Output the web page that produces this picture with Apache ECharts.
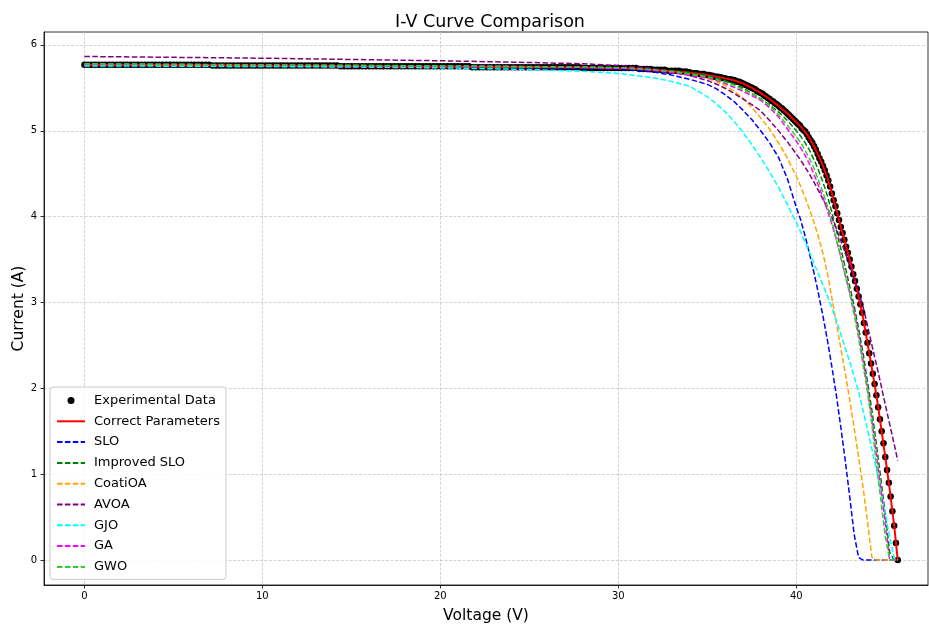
<!DOCTYPE html>
<html>
<head>
<meta charset="utf-8">
<title>I-V Curve Comparison</title>
<script src="https://cdn.jsdelivr.net/npm/echarts/dist/echarts.min.js"></script>
<style>
  html, body { margin: 0; padding: 0; background: #ffffff; }
  #chart { width: 929px; height: 624px; }
</style>
</head>
<body>
<div id="chart"></div>
<script>
// Measured I-V points (voltage in V, current in A)
const expVoltage = [
  0,0.2,0.4,0.6,0.8,1,1.2,1.4,1.6,1.8,2,2.2,2.4,2.6,2.8,3,3.2,3.4,3.6,3.8,4,4.2,4.4,4.6,4.8,5,5.2,5.4,5.6,5.8,6,6.2,6.4,6.6,6.8,7,
  7.2,7.4,7.6,7.8,8,8.2,8.4,8.6,8.8,9,9.2,9.4,9.6,9.8,10,10.2,10.4,10.6,10.8,11,11.2,11.4,11.6,11.8,12,12.2,12.4,12.6,12.8,13,13.2,13.4,13.6,13.8,14,14.2,
  14.4,14.6,14.8,15,15.2,15.4,15.6,15.8,16,16.2,16.4,16.6,16.8,17,17.2,17.4,17.6,17.8,18,18.2,18.4,18.6,18.8,19,19.2,19.4,19.6,19.8,20,20.2,20.4,20.6,20.8,21,21.2,21.4,21.6,
  21.8,22,22.2,22.4,22.6,22.8,23,23.2,23.4,23.6,23.8,24,24.2,24.4,24.6,24.8,25,25.2,25.4,25.6,25.8,26,26.2,26.4,26.6,26.8,27,27.2,27.4,27.6,27.8,
  28,28.2,28.4,28.6,28.8,29,29.2,29.4,29.6,29.8,30,30.2,30.4,30.6,30.8,31,
  31.2,31.4,31.6,31.8,32,32.2,32.4,32.6,32.8,33,33.2,33.4,33.6,33.8,
  34,34.1,34.2,34.3,34.4,34.5,34.6,34.7,34.8,34.9,35,35.1,35.2,35.3,35.4,35.5,35.6,35.7,35.8,35.9,
  36,36.1,36.2,36.3,36.4,36.5,36.6,36.7,36.8,36.9,37,37.1,37.2,37.3,37.4,37.5,37.6,37.7,37.8,37.9,
  38,38.1,38.2,38.3,38.4,38.5,38.6,38.7,38.8,38.9,39,39.1,39.2,39.3,39.4,39.5,39.6,39.7,39.8,39.9,
  40,40.1,40.2,40.3,40.4,40.5,40.6,40.7,40.8,40.9,41,41.1,41.2,41.3,41.4,41.5,41.6,41.7,41.8,41.9,
  42,42.1,42.2,42.3,42.4,42.5,42.6,42.7,42.8,42.9,43,43.1,43.2,43.3,43.4,43.5,43.6,43.7,43.8,43.9,
  44,44.1,44.2,44.3,44.4,44.5,44.6,44.7,44.8,44.9,45,45.1,45.2,45.3,45.4,45.5,45.6,45.7
];
const expCurrent = [
  5.77,5.77,5.77,5.77,5.77,5.77,5.77,5.77,5.77,5.77,5.77,5.77,
  5.77,5.77,5.77,5.77,5.77,5.77,5.77,5.77,5.77,5.77,5.77,5.77,
  5.77,5.77,5.77,5.77,5.77,5.77,5.77,5.77,5.77,5.77,5.77,5.77,
  5.76,5.76,5.76,5.76,5.76,5.76,5.76,5.76,5.76,5.76,5.76,5.76,
  5.76,5.76,5.76,5.76,5.76,5.76,5.76,5.76,5.76,5.76,5.76,5.76,
  5.76,5.76,5.76,5.76,5.76,5.76,5.76,5.76,5.76,5.76,5.76,5.76,
  5.75,5.75,5.75,5.75,5.75,5.75,5.75,5.75,5.75,5.75,5.75,5.75,
  5.75,5.75,5.75,5.75,5.75,5.75,5.75,5.75,5.75,5.75,5.75,5.75,
  5.75,5.75,5.75,5.75,5.75,5.75,5.75,5.75,5.75,5.75,5.75,5.75,5.75,
  5.74,5.74,5.74,5.74,5.74,5.74,5.74,5.74,5.74,5.74,5.74,5.74,
  5.74,5.74,5.74,5.74,5.74,5.74,5.74,5.74,5.74,5.74,5.74,5.74,
  5.74,5.74,5.74,5.74,5.74,5.74,5.74,
  5.73,5.73,5.73,5.73,5.73,5.73,5.73,5.73,5.73,5.73,5.73,5.73,5.73,5.73,5.73,5.73,
  5.72,5.72,5.72,5.72,5.71,5.71,5.71,5.71,5.70,5.70,5.70,5.70,5.69,5.69,
  5.68,5.67,5.67,5.67,5.67,5.66,5.66,5.66,5.66,5.65,5.65,5.65,5.64,5.64,5.63,5.63,5.63,5.62,5.62,5.61,
  5.61,5.60,5.60,5.60,5.59,5.59,5.58,5.57,5.57,5.56,5.55,5.54,5.53,5.52,5.51,5.50,5.49,5.48,5.46,5.45,
  5.44,5.43,5.41,5.40,5.38,5.37,5.35,5.34,5.32,5.31,5.29,5.27,5.26,5.24,5.22,5.20,5.18,5.16,5.14,5.12,
  5.10,5.08,5.06,5.03,5.01,4.99,4.96,4.92,4.89,4.86,4.82,4.78,4.73,4.68,4.64,4.59,4.54,4.48,4.42,4.35,
  4.27,4.19,4.12,4.04,3.96,3.88,3.81,3.73,3.65,3.58,3.50,3.42,3.33,3.25,3.16,3.07,2.98,2.88,2.76,2.65,
  2.53,2.41,2.29,2.17,2.05,1.92,1.78,1.64,1.50,1.36,1.20,1.05,0.90,0.74,0.57,0.40,0.20,0.00
];

// Voltage grid shared by the fitted model curves
const modelVoltage = [
  0,5,10,15,20,25,28,30,31,32,33,34,
  35,35.5,36,36.5,37,37.5,38,38.5,39,39.5,40,
  40.25,40.5,40.75,41,41.25,41.5,41.75,42,42.25,42.5,42.75,43,43.25,43.5,43.75,
  44,44.25,44.5,44.75,45,45.25,45.5,45.7
];

// Model currents for each parameter set (A)
const correctCurrent = [
  5.767,5.762,5.757,5.751,5.746,5.739,5.733,5.725,5.718,5.708,5.694,5.677,
  5.650,5.630,5.610,5.587,5.552,5.500,5.440,5.370,5.290,5.200,5.100,
  5.045,4.990,4.910,4.820,4.710,4.590,4.450,4.270,4.080,3.885,3.690,3.500,3.290,3.070,2.820,
  2.530,2.230,1.920,1.570,1.200,0.820,0.400,0.000
];
const sloCurrent = [
  5.762,5.758,5.753,5.748,5.742,5.733,5.726,5.715,5.703,5.685,5.648,5.600,
  5.540,5.490,5.420,5.340,5.240,5.130,5.000,4.860,4.690,4.440,4.110,
  3.960,3.770,3.560,3.340,3.100,2.840,2.560,2.250,1.920,1.550,1.160,0.740,0.300,0.030,0,
  0,0,0,0,0,0,0,0
];
const improvedSloCurrent = [
  5.778,5.772,5.766,5.760,5.754,5.746,5.740,5.735,5.728,5.715,5.700,5.675,
  5.640,5.613,5.583,5.545,5.495,5.435,5.370,5.300,5.220,5.120,5.000,
  4.935,4.860,4.770,4.660,4.540,4.400,4.240,4.050,3.840,3.630,3.410,3.190,2.960,2.700,2.410,
  2.080,1.740,1.350,0.950,0.530,0.090,0,0
];
const coatiCurrent = [
  5.770,5.765,5.760,5.755,5.750,5.743,5.738,5.733,5.725,5.713,5.692,5.660,
  5.610,5.575,5.525,5.460,5.380,5.270,5.150,5.020,4.860,4.680,4.470,
  4.350,4.220,4.080,3.930,3.760,3.570,3.340,3.050,2.760,2.470,2.180,1.870,1.540,1.200,0.850,
  0.450,0.030,0,0,0,0,0,0
];
const avoaCurrent = [
  5.865,5.855,5.845,5.830,5.815,5.795,5.780,5.760,5.745,5.722,5.692,5.645,
  5.585,5.545,5.495,5.435,5.370,5.305,5.230,5.120,5.000,4.870,4.730,
  4.655,4.575,4.490,4.400,4.300,4.200,4.100,3.990,3.860,3.720,3.580,3.430,3.280,3.120,2.950,
  2.730,2.500,2.280,2.050,1.810,1.580,1.350,1.160
];
const gjoCurrent = [
  5.755,5.752,5.748,5.742,5.733,5.713,5.693,5.668,5.642,5.615,5.575,5.520,
  5.395,5.315,5.220,5.110,4.980,4.840,4.685,4.520,4.340,4.140,3.930,
  3.820,3.700,3.580,3.450,3.330,3.200,3.080,2.940,2.790,2.630,2.470,2.310,2.140,1.960,1.740,
  1.520,1.290,1.050,0.800,0.540,0.270,0.020,0
];
const gaCurrent = [
  5.778,5.772,5.766,5.760,5.754,5.746,5.740,5.732,5.722,5.703,5.676,5.645,
  5.620,5.590,5.550,5.505,5.460,5.410,5.355,5.270,5.160,5.020,4.880,
  4.800,4.710,4.610,4.490,4.360,4.220,4.070,3.910,3.730,3.530,3.320,3.120,2.900,2.630,2.330,
  2.000,1.630,1.220,0.830,0.420,0,0,0
];
const gwoCurrent = [
  5.780,5.774,5.768,5.762,5.756,5.748,5.742,5.735,5.725,5.710,5.690,5.660,
  5.630,5.600,5.565,5.525,5.480,5.430,5.375,5.290,5.190,5.060,4.930,
  4.860,4.770,4.670,4.560,4.420,4.280,4.120,3.940,3.740,3.530,3.310,3.100,2.860,2.580,2.270,
  1.960,1.570,1.120,0.700,0.270,0,0,0
];

// Tick positions
const xTicks = [0, 10, 20, 30, 40];
const yTicks = [0, 1, 2, 3, 4, 5, 6];

const FONT = 'DejaVu Sans';
const pairs = (xs, ys) => xs.map((x, i) => [x, ys[i]]);

const dashed = (name, color, values) => ({
  name: name,
  type: 'line',
  data: pairs(modelVoltage, values),
  showSymbol: false,
  symbol: 'none',
  lineStyle: { color: color, width: 1.5, type: [5.5, 2.4] },
  itemStyle: { color: color },
  animation: false,
  emphasis: { disabled: true }
});

// Line entries in the legend show only their stroke, no marker
const lineEntry = (name) => ({ name: name, itemStyle: { opacity: 0 } });

const chart = echarts.init(document.getElementById('chart'), null, { renderer: 'canvas' });

chart.setOption({
  animation: false,
  backgroundColor: '#ffffff',
  title: {
    text: 'I-V Curve Comparison',
    left: 390,
    top: 8,
    textStyle: { fontFamily: FONT, fontSize: 17.5, fontWeight: 'normal', color: '#000' }
  },
  grid: {
    left: 44, right: 1, top: 32, bottom: 39,
    outerBoundsMode: 'none',
    containLabel: false,
    show: true, borderColor: '#000', borderWidth: 0.8, backgroundColor: 'transparent'
  },
  legend: {
    orient: 'vertical',
    left: 50,
    top: 387,
    padding: [6, 6, 5, 6],
    itemWidth: 28,
    itemHeight: 7,
    itemGap: 5.8,
    backgroundColor: 'rgba(255,255,255,0.85)',
    borderColor: '#cccccc',
    borderWidth: 1,
    borderRadius: 3,
    textStyle: { fontFamily: FONT, fontSize: 13, color: '#000', lineHeight: 15, padding: [0, 0, 0, 4] },
    data: [
      'Experimental Data',
      lineEntry('Correct Parameters'),
      lineEntry('SLO'),
      lineEntry('Improved SLO'),
      lineEntry('CoatiOA'),
      lineEntry('AVOA'),
      lineEntry('GJO'),
      lineEntry('GA'),
      lineEntry('GWO')
    ]
  },
  xAxis: {
    type: 'value',
    min: -2.27,
    max: 47.4,
    name: 'Voltage (V)',
    nameLocation: 'middle',
    nameMoveOverlap: false,
    nameGap: 23,
    nameTextStyle: { fontFamily: FONT, fontSize: 15.5, color: '#000' },
    axisLine: { show: true, onZero: false, lineStyle: { color: '#000', width: 0.8 } },
    axisTick: { show: true, length: 3.5, customValues: xTicks, lineStyle: { color: '#000', width: 0.8 } },
    axisLabel: { customValues: xTicks, fontFamily: FONT, fontSize: 10, color: '#000', margin: 6 },
    splitLine: { show: true, lineStyle: { color: '#c8c8c8', width: 0.8, type: [3, 1.5] } }
  },
  yAxis: {
    type: 'value',
    min: -0.29,
    max: 6.15,
    name: 'Current (A)',
    nameLocation: 'middle',
    nameRotate: 90,
    nameMoveOverlap: false,
    nameGap: 17,
    nameTextStyle: { fontFamily: FONT, fontSize: 15.5, color: '#000' },
    axisLine: { show: true, onZero: false, lineStyle: { color: '#000', width: 0.8 } },
    axisTick: { show: true, length: 3.5, customValues: yTicks, lineStyle: { color: '#000', width: 0.8 } },
    axisLabel: { customValues: yTicks, fontFamily: FONT, fontSize: 10, color: '#000', margin: 7 },
    splitLine: { show: true, lineStyle: { color: '#c8c8c8', width: 0.8, type: [3, 1.5] } }
  },
  series: [
    {
      name: 'Experimental Data',
      type: 'scatter',
      data: pairs(expVoltage, expCurrent),
      symbol: 'circle',
      symbolSize: 6.5,
      itemStyle: { color: '#000000', opacity: 1 },
      animation: false,
      emphasis: { disabled: true }
    },
    {
      name: 'Correct Parameters',
      type: 'line',
      data: pairs(modelVoltage, correctCurrent),
      showSymbol: false,
      symbol: 'none',
      lineStyle: { color: '#ff0000', width: 2 },
      itemStyle: { color: '#ff0000' },
      animation: false,
      emphasis: { disabled: true }
    },
    dashed('SLO', '#0000ff', sloCurrent),
    dashed('Improved SLO', '#008000', improvedSloCurrent),
    dashed('CoatiOA', '#ffa500', coatiCurrent),
    dashed('AVOA', '#800080', avoaCurrent),
    dashed('GJO', '#00ffff', gjoCurrent),
    dashed('GA', '#ff00ff', gaCurrent),
    dashed('GWO', '#32cd32', gwoCurrent)
  ]
});
</script>
</body>
</html>
